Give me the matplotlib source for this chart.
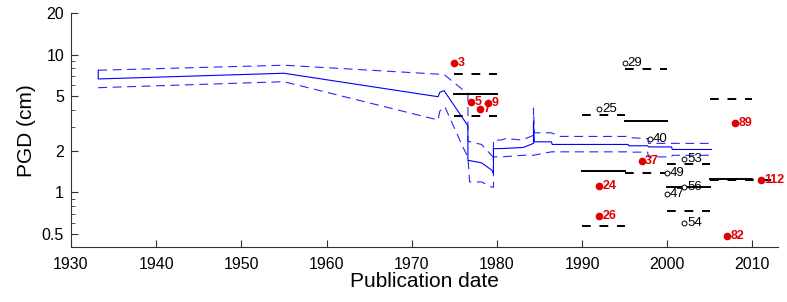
import matplotlib
matplotlib.use("Agg")
import matplotlib.pyplot as plt
from matplotlib.ticker import FixedLocator, NullFormatter, LogLocator

plt.rcParams['font.family'] = ['Liberation Sans', 'DejaVu Sans']

# running estimate (solid) and its bounds (dashed)
est_year = [1933.2, 1933.2, 1955.0, 1973.1, 1973.3, 1973.8, 1976.6, 1976.6, 1978.2, 1979.4,
            1979.6, 1979.6, 1980.5, 1983.1, 1984.3, 1984.3, 1984.4, 1986.4, 1986.5, 1995.4,
            1995.5, 1997.7, 1997.8, 2000.5, 2000.6, 2005.2]
est_pgd = [7.73, 6.68, 7.35, 4.96, 5.34, 5.49, 3.05, 1.71, 1.64, 1.45,
           1.37, 2.08, 2.08, 2.12, 2.27, 3.2, 2.33, 2.33, 2.23, 2.23,
           2.18, 2.18, 2.14, 2.14, 2.05, 2.05]

up_year = [1933.2, 1955.0, 1973.8, 1976.6, 1976.6, 1978.2, 1979.4, 1979.6, 1979.6, 1980.5,
           1981.0, 1983.0, 1984.3, 1984.3, 1984.4, 1986.4, 1987.5, 1995.2, 1995.5, 1997.7,
           1997.8, 2005.2]
up_pgd = [7.73, 8.41, 7.2, 5.2, 2.35, 2.23, 1.85, 1.8, 2.4, 2.4,
          2.46, 2.4, 2.6, 4.1, 2.71, 2.71, 2.55, 2.55, 2.5, 2.46,
          2.27, 2.27]

lo_year = [1933.2, 1955.0, 1973.1, 1973.3, 1973.9, 1976.0, 1976.6, 1976.8, 1978.2, 1979.4,
           1979.6, 1979.6, 1980.5, 1983.1, 1984.3, 1986.4, 1988.0, 1995.4, 1995.5, 1997.7,
           1997.8, 2000.5, 2000.6, 2005.2]
lo_pgd = [5.77, 6.38, 3.36, 3.9, 4.19, 2.14, 1.81, 1.19, 1.19, 1.09,
          1.09, 1.81, 1.81, 1.86, 1.86, 1.97, 1.97, 1.97, 1.96, 1.96,
          1.81, 1.81, 1.86, 1.86]

# period reference ranges (black)
grp_start = [1975, 1990, 1995, 2000, 2005]
grp_end = [1980, 1995, 2000, 2005, 2010]
grp_mid = [5.17, 1.43, 3.31, 1.09, 1.26]
grp_hi = [7.27, 3.65, 7.9, 1.62, 4.75]
grp_lo = [3.6, 0.568, 1.39, 0.727, 1.23]
grp_lo_end = [1980, 1995, 2000, 2005, 2013]

# red studies
red_year = [1975, 1977, 1978, 1979, 1992, 1992, 1997, 2008, 2011, 2007]
red_pgd = [8.7, 4.52, 4.03, 4.44, 1.106, 0.668, 1.69, 3.2, 1.22, 0.485]
red_lab = ['3', '5', '7', '9', '24', '26', '37', '89', '112', '82']

# open-circle studies
open_year = [1995, 1992, 1998, 2002, 2000, 2002, 2000, 2002]
open_pgd = [8.79, 4.03, 2.44, 1.76, 1.39, 1.09, 0.967, 0.597]
open_lab = ['29', '25', '40', '53', '49', '56', '47', '54']

fig = plt.figure(figsize=(7.87, 3.02), dpi=100)
ax = fig.add_axes([0.0902, 0.1821, 0.8983, 0.7732])

blue = '#0000ff'
ax.plot(est_year, est_pgd, color=blue, lw=0.8)
ax.plot(up_year, up_pgd, color=blue, lw=0.8, dashes=(8, 5), alpha=0.85)
ax.plot(lo_year, lo_pgd, color=blue, lw=0.8, dashes=(8, 5), alpha=0.85)

for s, e, m, h, l, le in zip(grp_start, grp_end, grp_mid, grp_hi, grp_lo, grp_lo_end):
    ax.plot([s, e], [m, m], color='black', lw=1.4)
    ax.plot([s, e], [h, h], color='black', lw=1.4, dashes=(4.5, 4.5))
    ax.plot([s, le], [l, l], color='black', lw=1.4, dashes=(4.5, 4.5))

ax.plot(red_year, red_pgd, 'o', color='#e00000', ms=4.5, mec='#e00000')
for x, y, t in zip(red_year, red_pgd, red_lab):
    ax.annotate(t, (x, y), xytext=(2.5, 0), textcoords='offset points',
                color='#e00000', fontsize=9, fontweight='bold', va='center', ha='left')

ax.plot(open_year, open_pgd, 'o', color='black', mfc='white', ms=3.5, mew=0.7)
for x, y, t in zip(open_year, open_pgd, open_lab):
    ax.annotate(t, (x, y), xytext=(2, 0), textcoords='offset points',
                color='black', fontsize=9.5, va='center', ha='left')

ax.set_yscale('log')
ax.set_xlim(1930, 2013)
ax.set_ylim(0.4, 20)
ax.set_xticks(range(1930, 2011, 10))
ax.yaxis.set_major_locator(FixedLocator([0.5, 1, 2, 5, 10, 20]))
ax.set_yticklabels(['0.5', '1', '2', '5', '10', '20'])
ax.yaxis.set_minor_locator(LogLocator(base=10, subs=[2, 3, 4, 5, 6, 7, 8, 9]))
ax.yaxis.set_minor_formatter(NullFormatter())

for side in ['top', 'right']:
    ax.spines[side].set_visible(False)
for side in ['left', 'bottom']:
    ax.spines[side].set_color('#333333')
    ax.spines[side].set_linewidth(0.8)
ax.tick_params(which='both', direction='in', colors='#333333', labelcolor='black', labelsize=11.5)
ax.tick_params(which='major', length=5, width=0.8)
ax.tick_params(which='minor', length=3, width=0.6)
ax.tick_params(axis='x', pad=7)
ax.tick_params(axis='y', pad=5)

ax.set_xlabel('Publication date', fontsize=15, labelpad=0)
ax.set_ylabel('PGD (cm)', fontsize=15, labelpad=4)

fig.savefig('out.png', dpi=100)
